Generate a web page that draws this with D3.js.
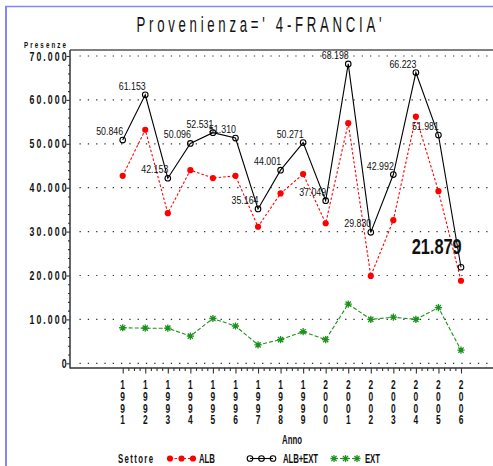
<!DOCTYPE html>
<html>
<head>
<meta charset="utf-8">
<style>
  body { margin: 0; background: #fff; }
  svg { display: block; }
</style>
</head>
<body>
<svg></svg>
<script src="https://cdn.jsdelivr.net/npm/d3@7"></script>
<script>

  // data
  const years = [1991, 1992, 1993, 1994, 1995, 1996, 1997, 1998, 1999, 2000, 2001, 2002, 2003, 2004, 2005, 2006]
  const albExt = [50846, 61153, 42153, 50096, 52531, 51310, 35164, 44001, 50271, 37049, 68198, 29830, 42992, 66223, 51981, 21879]
  const alb = [42700, 53200, 34200, 44000, 42200, 42700, 31100, 38700, 43100, 31900, 54700, 19900, 32600, 56200, 39200, 18800]
  const ext = [8100, 8000, 8000, 6200, 10200, 8500, 4200, 5400, 7200, 5400, 13500, 10000, 10500, 10000, 12700, 3000]
  const yTicks = [0, 10000, 20000, 30000, 40000, 50000, 60000, 70000]

  const width = 493,
        height = 466,
        colors = {alb: '#ff0000', tot: '#000000', ext: '#1c921c', frame: '#8484ff', axis: '#333'}

  const it = d3.formatLocale({decimal: ',', thousands: '.', grouping: [3], currency: ['', '€']})
  const fmt = it.format(',d')

  const svg = d3.select('svg')
      .attr('width', width)
      .attr('height', height)

  const xScale = d3.scaleLinear().domain([1991, 2006]).range([122.7, 461])
  const yScale = d3.scaleLinear().domain([0, 70000]).range([363.3, 56])

  // narrow "SAS" looking text: glyphs squeezed, spacing stretched to width w
  function sasText(parent, str, x0, y0, w, size, anchor, weight, sx) {
    sx = sx || 0.65
    const g = parent.append('g').attr('transform', `translate(${x0},${y0}) scale(${sx},1)`)
    const t = g.append('text')
      .attr('font-family', 'Liberation Sans, Arial, sans-serif')
      .attr('font-size', size)
      .attr('font-weight', weight || 'bold')
      .attr('fill', '#111')
      .text(str)
    if (w) {
      const lw = w / sx
      t.attr('x', anchor === 'end' ? -lw : anchor === 'middle' ? -lw / 2 : 0)
        .attr('textLength', lw)
        .attr('lengthAdjust', 'spacing')
    } else {
      t.style('text-anchor', anchor || 'start')
    }
    return t
  }

  // outer blue frame
  svg.append('line').attr('x1', 5).attr('x2', width).attr('y1', 6.5).attr('y2', 6.5)
    .attr('stroke', colors.frame).attr('stroke-width', 1.5)
  svg.append('line').attr('x1', 6).attr('x2', 6).attr('y1', 6).attr('y2', height)
    .attr('stroke', colors.frame).attr('stroke-width', 2)

  // title
  sasText(svg, "Provenienza=' 4-FRANCIA'", 259, 31.5, 245, 22, 'middle', 'normal', 0.6)

  // gridlines
  svg.append('g').selectAll('line')
    .data(yTicks)
    .enter().append('line')
      .attr('x1', 79.5).attr('x2', width)
      .attr('y1', d => yScale(d)).attr('y2', d => yScale(d))
      .attr('stroke', '#333')
      .attr('stroke-width', 1.2)
      .attr('stroke-dasharray', '1.3,7')

  // plot frame top
  svg.append('line').attr('x1', 70).attr('x2', width).attr('y1', 50).attr('y2', 50)
    .attr('stroke', '#555').attr('stroke-width', 1.5)

  // y axis
  const yMinor = d3.range(0, 70001, 2000).filter(d => d % 10000 !== 0)
  svg.append('g')
    .attr('transform', 'translate(70,0)')
    .call(d3.axisLeft(yScale).tickValues(yMinor).tickSize(2).tickFormat(''))
    .call(g => g.select('.domain').remove())
  svg.append('g')
    .attr('transform', 'translate(70,0)')
    .call(d3.axisLeft(yScale).tickValues(yTicks).tickSize(3.5).tickFormat(''))
    .call(g => g.select('.domain').remove())
  svg.selectAll('.tick line').attr('stroke', colors.axis).attr('stroke-width', 1.1)
  svg.append('line').attr('x1', 70).attr('x2', 70).attr('y1', 50).attr('y2', 368.5)
    .attr('stroke', colors.axis).attr('stroke-width', 1.5)

  yTicks.forEach(v => {
    const s = fmt(v)
    sasText(svg, s, 66.5, yScale(v) + 4.5, s.length > 1 ? 37 : null, 12.5, 'end', 'bold', 0.7)
  })
  sasText(svg, 'Presenze', 66, 48, 42, 9.5, 'end')

  // x axis
  const xMinor = d3.range(1991, 2006.01, 0.25).filter(d => d % 1 !== 0)
  svg.append('g')
    .attr('transform', 'translate(0,368)')
    .call(d3.axisBottom(xScale).tickValues(xMinor).tickSize(3).tickFormat(''))
    .call(g => g.select('.domain').remove())
  svg.append('g')
    .attr('transform', 'translate(0,368)')
    .call(d3.axisBottom(xScale).tickValues(years).tickSize(5.5).tickFormat(''))
    .call(g => g.select('.domain').remove())
  svg.selectAll('.tick line').attr('stroke', colors.axis).attr('stroke-width', 1.1)
  svg.append('line').attr('x1', 70).attr('x2', width).attr('y1', 368).attr('y2', 368)
    .attr('stroke', colors.axis).attr('stroke-width', 1.5)

  years.forEach(yr => {
    String(yr).split('').forEach((c, i) => {
      sasText(svg, c, xScale(yr), 389.3 + i * 11.6, null, 12, 'middle', 'bold', 0.7)
    })
  })
  sasText(svg, 'Anno', 292, 444, 20, 12, 'middle')

  // series
  const line = data => d3.line()
    .x((d, i) => xScale(years[i]))
    .y(d => yScale(d))(data)

  svg.append('path').attr('d', line(ext))
    .attr('fill', 'none').attr('stroke', colors.ext).attr('stroke-width', 1.1)
    .attr('stroke-dasharray', '4,2')
  svg.append('path').attr('d', line(alb))
    .attr('fill', 'none').attr('stroke', colors.alb).attr('stroke-width', 1.1)
    .attr('stroke-dasharray', '2.5,2')
  svg.append('path').attr('d', line(albExt))
    .attr('fill', 'none').attr('stroke', colors.tot).attr('stroke-width', 1.1)

  const starPath = 'M-3.6,0L3.6,0M0,-3.6L0,3.6M-2.6,-2.6L2.6,2.6M-2.6,2.6L2.6,-2.6'

  function drawStar(g, x, y) {
    g.append('path').attr('d', starPath)
      .attr('transform', `translate(${x},${y})`)
      .attr('stroke', colors.ext).attr('stroke-width', 1.3)
    g.append('circle').attr('cx', x).attr('cy', y).attr('r', 1.6).attr('fill', colors.ext)
  }
  function drawDot(g, x, y) {
    g.append('circle').attr('cx', x).attr('cy', y).attr('r', 3.1).attr('fill', colors.alb)
  }
  function drawRing(g, x, y) {
    g.append('circle').attr('cx', x).attr('cy', y).attr('r', 2.8)
      .attr('fill', 'none').attr('stroke', colors.tot).attr('stroke-width', 1.1)
  }

  const gMarks = svg.append('g')
  ext.forEach((d, i) => drawStar(gMarks, xScale(years[i]), yScale(d)))
  alb.forEach((d, i) => drawDot(gMarks, xScale(years[i]), yScale(d)))
  albExt.forEach((d, i) => drawRing(gMarks, xScale(years[i]), yScale(d)))

  // value labels on ALB+EXT
  albExt.forEach((d, i) => {
    const px = xScale(years[i]), py = yScale(d)
    const last = i === albExt.length - 1
    svg.append('text')
      .attr('x', last ? px + 0.7 - 50 : px + 0.5 - 27)
      .attr('y', last ? py - 13.5 : py - 5)
      .attr('textLength', last ? 50 : 27)
      .attr('lengthAdjust', 'spacingAndGlyphs')
      .style('font-family', 'Liberation Sans, Arial, sans-serif')
      .style('font-size', last ? '22px' : '10.5px')
      .style('font-weight', last ? 'bold' : 'normal')
      .attr('fill', '#111')
      .text(fmt(d))
  })

  // legend
  const legY = 458.5
  sasText(svg, 'Settore', 118, 463, 35, 12, 'start')

  const legend = [
    {name: 'ALB', x0: 170, tx: 199, tw: 16, color: colors.alb, dash: '2.5,2', mark: drawDot},
    {name: 'ALB+EXT', x0: 250, tx: 283, tw: 35, color: colors.tot, dash: null, mark: drawRing},
    {name: 'EXT', x0: 334, tx: 365, tw: 15, color: colors.ext, dash: '4,2', mark: drawStar}
  ]
  legend.forEach(l => {
    const gl = svg.append('g')
    gl.append('line').attr('x1', l.x0).attr('x2', l.x0 + 23).attr('y1', legY).attr('y2', legY)
      .attr('stroke', l.color).attr('stroke-width', 1.1)
      .attr('stroke-dasharray', l.dash)
    ;[0, 11.5, 23].forEach(dx => l.mark(gl, l.x0 + dx, legY))
    sasText(svg, l.name, l.tx, 463, l.tw, 12, 'start')
  })

</script>
</body>
</html>
